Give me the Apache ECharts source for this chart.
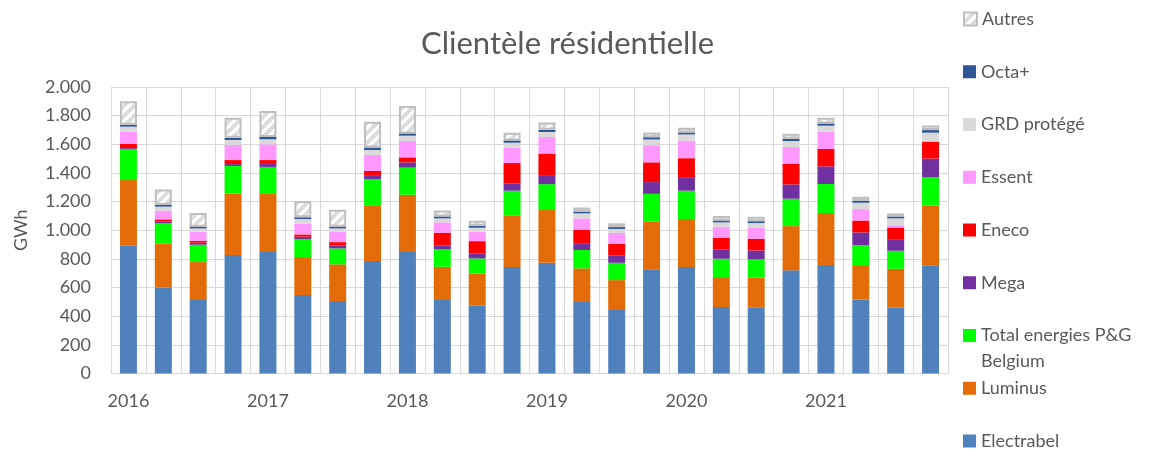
<!DOCTYPE html>
<html>
<head>
<meta charset="utf-8">
<script src="https://cdn.jsdelivr.net/npm/echarts@6/dist/echarts.min.js"></script>
<style>
html,body{margin:0;padding:0;background:#fff;}
#chart{width:1151px;height:449px;}
</style>
</head>
<body>
<div id="chart"></div>
<script>
const categories = ['2016','','','','2017','','','','2018','','','','2019','','','','2020','','','','2021','','',''];
const yTicks = [0,200,400,600,800,1000,1200,1400,1600,1800,2000];
const electrabel = [895,601,513,827,848,548,506,785,848,513,473,743,773,499,443,727,743,464,462,720,757,517,459,755];
const luminus    = [455,305,265,428,410,265,256,389,400,232,224,358,368,235,209,335,336,209,207,309,363,240,272,416];
const totalEn    = [215,142,121,194,184,123,111,181,189,121,106,175,181,128,121,192,197,128,128,191,203,140,126,198];
const mega       = [8,12,14,13,21,19,19,30,37,26,33,51,63,48,49,82,90,63,62,100,123,88,81,131];
const eneco      = [29,16,14,28,27,16,25,29,35,91,88,142,150,93,83,138,137,84,82,145,121,83,80,118];
const essent     = [86,61,63,105,110,75,71,112,116,72,66,107,116,80,76,120,123,77,79,116,121,80,12,5];
const grd        = [35,28,23,35,35,32,25,34,35,28,28,35,35,35,28,40,43,30,30,42,42,44,53,58];
const octa       = [13,12,12,15,16,12,12,17,16,13,13,16,15,12,13,15,13,13,13,15,15,13,13,18];
const autres     = [165,108,95,141,181,114,118,181,191,41,36,54,52,28,26,33,33,31,32,36,41,29,22,33];
const seriesNames = ['Electrabel','Luminus','Total energies P&G Belgium','Mega','Eneco','Essent','GRD protégé','Octa+','Autres'];
const seriesColors = ['#4f81bd','#e36c09','#00ff00','#7030a0','#ff0000','#ff99ff','#d9d9d9','#2f5597','#ffffff'];
const seriesData = [electrabel,luminus,totalEn,mega,eneco,essent,grd,octa,autres];

function makeHatch(){
  const s = 10;
  const c = document.createElement('canvas');
  c.width = s; c.height = s;
  const g = c.getContext('2d');
  g.fillStyle = '#ffffff'; g.fillRect(0,0,s,s);
  g.strokeStyle = '#dcdcdc'; g.lineWidth = 4;
  g.beginPath(); g.moveTo(-3,s+3); g.lineTo(s+3,-3); g.stroke();
  g.beginPath(); g.moveTo(-3,3); g.lineTo(3,-3); g.stroke();
  g.beginPath(); g.moveTo(s-3,s+3); g.lineTo(s+3,s-3); g.stroke();
  return c;
}

const fmt = v => v >= 1000 ? Math.floor(v/1000) + '.' + String(v % 1000).padStart(3,'0') : String(v);

const series = seriesNames.map((name,i) => {
  const isAutres = name === 'Autres';
  return {
    name: name,
    type: 'bar',
    stack: 'total',
    barWidth: 17,
    data: seriesData[i],
    itemStyle: isAutres
      ? {color: {image: makeHatch(), repeat: 'repeat'}, borderColor: '#bfbfbf', borderWidth: 2}
      : {color: seriesColors[i]},
    emphasis: {disabled: true}
  };
});

// one legend block per entry, stacked from the top (Excel order: last series first)
const legendOrder = seriesNames.slice().reverse();
const legendStep = 52.75;
const legendFirstCenter = 19;
const legends = legendOrder.map((name,i) => {
  const c = legendFirstCenter + i*legendStep;
  const wrap = name === 'Total energies P&G Belgium';
  return {
    orient: 'vertical',
    left: 963,
    top: wrap ? c - 39 : c - 13,
    padding: 0,
    itemWidth: 13, itemHeight: 13,
    icon: 'rect',
    selectedMode: false,
    data: [name],
    formatter: n => wrap ? '\nTotal energies P&G\nBelgium' : n,
    textStyle: {fontFamily: 'Lato', fontSize: 18, color: '#595959', lineHeight: 26}
  };
});

const chart = echarts.init(document.getElementById('chart'), null, {renderer: 'canvas'});
chart.setOption({
  animation: false,
  textStyle: {fontFamily: 'Lato'},
  title: {
    text: 'Clientèle résidentielle',
    left: 416, top: 23,
    textStyle: {fontFamily: 'Lato', fontSize: 31, fontWeight: 'normal', color: '#595959'}
  },
  legend: legends,
  grid: {left: 111, right: 203, top: 87, bottom: 75.5, containLabel: false, outerBoundsMode: 'none'},
  xAxis: {
    type: 'category',
    data: categories,
    boundaryGap: true,
    axisTick: {show: false},
    axisLine: {lineStyle: {color: '#d9d9d9', width: 1}},
    axisLabel: {interval: 0, margin: 19, fontFamily: 'Lato', fontSize: 18, color: '#595959'},
    splitLine: {show: true, interval: 0, lineStyle: {color: '#d9d9d9', width: 1}}
  },
  yAxis: {
    type: 'value',
    min: yTicks[0], max: yTicks[yTicks.length-1], interval: 200,
    name: 'GWh',
    nameLocation: 'middle',
    nameGap: 81,
    nameTextStyle: {fontFamily: 'Lato', fontSize: 18, color: '#595959'},
    axisLine: {show: false},
    axisTick: {show: false},
    axisLabel: {formatter: fmt, margin: 20, fontFamily: 'Lato', fontSize: 18, color: '#595959'},
    splitLine: {lineStyle: {color: '#d9d9d9', width: 1}}
  },
  series: series
});
</script>
</body>
</html>
